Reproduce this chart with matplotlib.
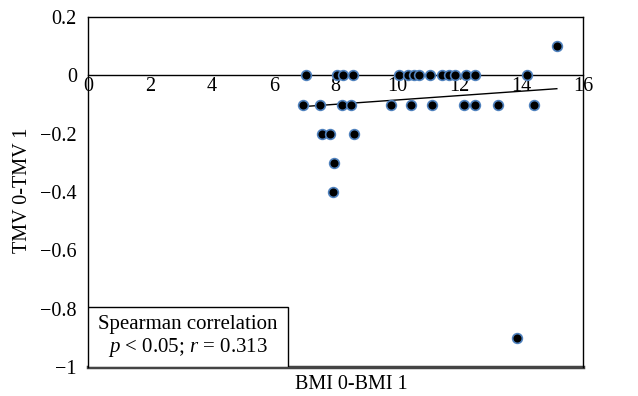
import numpy as np
import matplotlib.pyplot as plt
from matplotlib.ticker import FuncFormatter
from matplotlib.patches import Rectangle

plt.rcParams['font.family'] = ['Liberation Serif', 'DejaVu Serif']
plt.rcParams['mathtext.fontset'] = 'custom'
plt.rcParams['mathtext.rm'] = 'Liberation Serif'
plt.rcParams['mathtext.it'] = 'Liberation Serif:italic'

# BMI change vs TMV change
bmi_diff = [7.05, 8.03, 8.25, 8.55, 10.05, 10.33, 10.55, 10.7, 11.05, 11.45,
            11.65, 11.85, 12.22, 12.5, 14.2,
            6.95, 7.5, 8.2, 8.5, 9.8, 10.45, 11.1, 12.15, 12.5, 13.25, 14.4,
            15.15,
            7.55, 7.82, 8.6, 7.95, 7.92, 13.85]
tmv_diff = [0] * 15 + [-0.1] * 11 + [0.1] + [-0.2, -0.2, -0.2, -0.3, -0.4, -0.9]

# linear trend line
slope = 0.00748
intercept = -0.159

xticks = [0, 2, 4, 6, 8, 10, 12, 14, 16]
yticks = [0.2, 0, -0.2, -0.4, -0.6, -0.8, -1]

fig = plt.figure(figsize=(6.38, 3.96), dpi=100)
ax = fig.add_axes([0.138, 0.073, 0.776, 0.884])

xl = np.array([min(bmi_diff), max(bmi_diff)])
ax.plot(xl, slope * xl + intercept, color='black', lw=1, zorder=2)
ax.plot(bmi_diff, tmv_diff, 'o', ms=7, mfc='black', mec='#4F81BD', mew=1.2,
        ls='none', zorder=3)

ax.set_xlim(0, 16)
ax.set_ylim(-1, 0.2)
ax.set_xticks(xticks)
ax.set_yticks(yticks)

def fmt(v, pos):
    s = f'{v:g}'
    return s.replace('-', '\u2212')

ax.xaxis.set_major_formatter(FuncFormatter(fmt))
ax.yaxis.set_major_formatter(FuncFormatter(fmt))
ax.tick_params(axis='both', length=0, labelsize=14.5, pad=8)
ax.tick_params(axis='x', pad=1)

ax.spines['bottom'].set_position(('data', 0))
ax.axhline(-1, color='#444444', lw=2.5, clip_on=False, zorder=1)
for s in ax.spines.values():
    s.set_linewidth(1)

fig.text(0.035, 0.52, 'TMV 0-TMV 1', rotation=90, ha='center', va='center',
         fontsize=14.5)
fig.text(0.55, 0.028, 'BMI 0-BMI 1', ha='center', va='center', fontsize=14.5)

ax.add_patch(Rectangle((0, 0), 0.404, 0.171, transform=ax.transAxes,
                       fc='white', ec='black', lw=1, zorder=4))
ax.text(0.202, 0.086, 'Spearman correlation\n$p$ < 0.05; $r$ = 0.313',
        transform=ax.transAxes, ha='center', va='center', fontsize=15,
        linespacing=1.15, zorder=5)

fig.savefig('out.png', dpi=100)
